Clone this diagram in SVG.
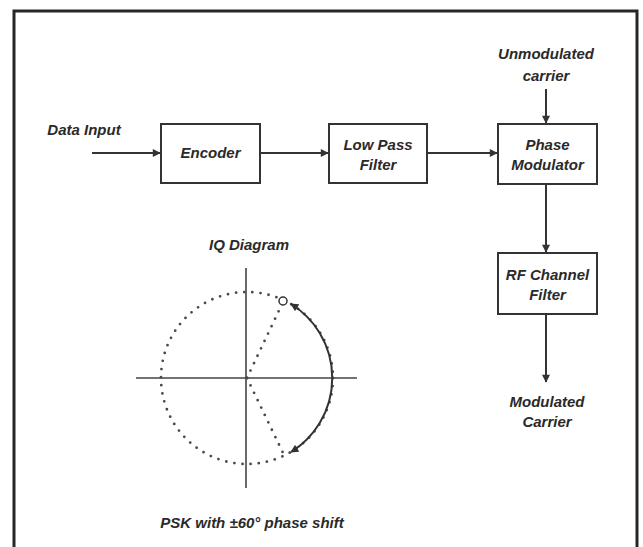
<svg xmlns="http://www.w3.org/2000/svg" width="643" height="547" viewBox="0 0 643 547">
<style>
text{font-family:"Liberation Sans",Arial,sans-serif;font-weight:bold;font-style:italic;font-size:15px;fill:#2a2a2a;text-anchor:middle}
.box{fill:#fff;stroke:#333;stroke-width:2}
.ln{fill:none;stroke:#333;stroke-width:2}
.ax{fill:none;stroke:#444;stroke-width:1.6}
.dot{fill:none;stroke:#4a4a4a;stroke-width:2.8;stroke-dasharray:0 8.2;stroke-linecap:round}
</style>
<defs>
<marker id="ah" viewBox="0 0 10 10" refX="9" refY="5" markerWidth="9" markerHeight="8" markerUnits="userSpaceOnUse" orient="auto-start-reverse">
<path d="M0,0 L10,5 L0,10 Z" fill="#333"/>
</marker>
</defs>
<rect width="643" height="547" fill="#fff"/>
<path d="M14,547 V11 H637 V547" fill="none" stroke="#262626" stroke-width="3"/>

<g id="connectors">
<line class="ln" x1="92" y1="153" x2="160" y2="153" marker-end="url(#ah)"/>
<line class="ln" x1="261" y1="153" x2="328" y2="153" marker-end="url(#ah)"/>
<line class="ln" x1="428" y1="153" x2="497" y2="153" marker-end="url(#ah)"/>
<line class="ln" x1="546" y1="89" x2="546" y2="123" marker-end="url(#ah)"/>
<line class="ln" x1="546" y1="184" x2="546" y2="252" marker-end="url(#ah)"/>
<line class="ln" x1="546" y1="315" x2="546" y2="382" marker-end="url(#ah)"/>
</g>

<g id="data-input"><text x="84" y="135">Data Input</text></g>
<g id="unmodulated-carrier"><text x="546" y="59">Unmodulated</text><text x="546" y="81">carrier</text></g>
<g id="encoder"><rect class="box" x="161" y="124" width="99" height="59"/><text x="210.5" y="158">Encoder</text></g>
<g id="low-pass-filter"><rect class="box" x="329" y="124" width="98" height="59"/><text x="378" y="150">Low Pass</text><text x="378" y="170">Filter</text></g>
<g id="phase-modulator"><rect class="box" x="498" y="124" width="99" height="60"/><text x="547.5" y="150">Phase</text><text x="547.5" y="170">Modulator</text></g>
<g id="rf-channel-filter"><rect class="box" x="498" y="253" width="99" height="61"/><text x="547.5" y="280">RF Channel</text><text x="547.5" y="300">Filter</text></g>
<g id="modulated-carrier"><text x="547" y="407">Modulated</text><text x="547" y="427">Carrier</text></g>

<g id="iq-diagram">
<text x="249" y="250">IQ Diagram</text>
<line class="ax" x1="136" y1="378" x2="357" y2="378"/>
<line class="ax" x1="246" y1="268" x2="246" y2="488"/>
<circle class="dot" cx="247" cy="378" r="86"/>
<line class="dot" x1="247" y1="378" x2="283" y2="302"/>
<line class="dot" x1="247" y1="378" x2="284" y2="455"/>
<path class="ln" d="M291,452 A87,87 0 0 0 291,304" marker-start="url(#ah)" marker-end="url(#ah)"/>
<circle cx="283" cy="301" r="4" fill="#fff" stroke="#333" stroke-width="1.5"/>
<text x="252" y="528">PSK with ±60° phase shift</text>
</g>
</svg>
